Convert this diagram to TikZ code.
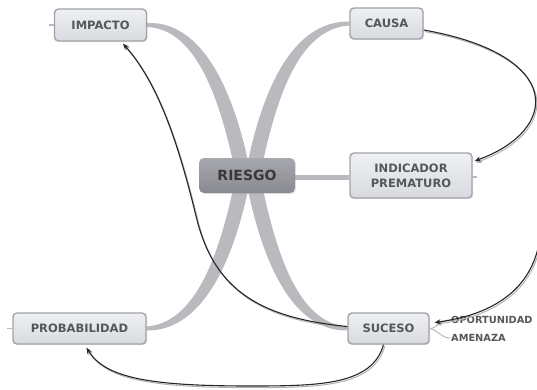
\documentclass[tikz,border=0pt]{standalone}
\usepackage{fontspec}
\setmainfont{DejaVu Sans}
\usetikzlibrary{arrows.meta,calc,shadows}

\definecolor{branchgray}{HTML}{B8BABE}
\definecolor{boxtop}{HTML}{EFF0F3}
\definecolor{boxbot}{HTML}{D9DADF}
\definecolor{boxline}{HTML}{A2A3A8}
\definecolor{labelgray}{HTML}{55575B}
\definecolor{coretop}{HTML}{A6A8AD}
\definecolor{corebot}{HTML}{888A8F}
\definecolor{linkdark}{HTML}{262626}

\pgfdeclarelayer{canvas}
\pgfdeclarelayer{branches}
\pgfsetlayers{canvas,branches,main}

\tikzset{
  topic/.style={rounded corners=4pt, draw=boxline, line width=1.4pt,
    top color=boxtop, bottom color=boxbot, text=labelgray,
    font=\bfseries\fontsize{11.5}{15}\selectfont, align=center, inner sep=0pt,
    drop shadow={shadow xshift=1.2pt, shadow yshift=-1.2pt, opacity=0.18}},
  core/.style={rounded corners=5pt, top color=coretop, bottom color=corebot,
    text=black!78, font=\bfseries\fontsize{14}{16}\selectfont, inner sep=0pt,
    minimum width=96pt, minimum height=35pt,
    drop shadow={shadow xshift=1.2pt, shadow yshift=-1.2pt, opacity=0.18}},
  branch/.style={fill=branchgray},
  stub/.style={draw=branchgray, line width=1.5pt},
  leafline/.style={draw=branchgray, line width=1pt},
  link/.style={draw=linkdark, line width=1.1pt, -{Stealth[length=6pt,width=5pt]},
    preaction={draw=black!30, line width=1pt,
      transform canvas={xshift=1.2pt, yshift=-1.6pt}}},
  leaf/.style={font=\bfseries\fontsize{9.8}{12}\selectfont, text=labelgray,
    anchor=west, inner sep=1pt}
}

\begin{document}
\begin{tikzpicture}[x=1pt, y=-1pt]
  % page frame
  \path[use as bounding box] (0,0) rectangle (537,390);
  \begin{pgfonlayer}{canvas}
    \fill[white] (0,0) rectangle (537,390);
  \end{pgfonlayer}

  % topics
  \node[core] (riesgo) at (247,175.5) {RIESGO};
  \node[topic, minimum width=92pt, minimum height=32pt] (impacto) at (100.5,25) {IMPACTO};
  \node[topic, minimum width=73pt, minimum height=31pt] (causa) at (386.5,23.5) {CAUSA};
  \node[topic, minimum width=122pt, minimum height=45pt] (indicador) at (411,175.5) {INDICADOR\\PREMATURO};
  \node[topic, minimum width=133pt, minimum height=31pt] (prob) at (79.5,328.5) {PROBABILIDAD};
  \node[topic, minimum width=81pt, minimum height=31pt] (suceso) at (388.5,328.5) {SUCESO};

  % sub-topics of SUCESO
  \node[leaf] (opor) at (450,320) {OPORTUNIDAD};
  \node[leaf] (amen) at (450,338) {AMENAZA};

  % tapered branches from the central topic
  \begin{pgfonlayer}{branches}
    \fill[branch] ($(riesgo.center)+(4,0)$) .. controls (235,92) and (203,21) .. ($(impacto.east)+(0,-2)$)
      -- ($(impacto.east)+(0,2)$) .. controls (196,29) and (220,98) .. ($(riesgo.center)+(-11,0)$) -- cycle;
    \fill[branch] ($(riesgo.center)+(-2,0)$) .. controls (261,92) and (291,21) .. ($(causa.west)+(0,-2)$)
      -- ($(causa.west)+(0,2)$) .. controls (298,29) and (276,98) .. ($(riesgo.center)+(13,0)$) -- cycle;
    \fill[branch] ($(riesgo.center)+(4,0)$) .. controls (235,260) and (203,331) .. ($(prob.east)+(0,2)$)
      -- ($(prob.east)+(0,-2)$) .. controls (196,323) and (220,254) .. ($(riesgo.center)+(-11,0)$) -- cycle;
    \fill[branch] ($(riesgo.center)+(-2,0)$) .. controls (261,260) and (291,331) .. ($(suceso.west)+(0,2)$)
      -- ($(suceso.west)+(0,-2)$) .. controls (298,323) and (276,254) .. ($(riesgo.center)+(13,0)$) -- cycle;
    \draw[branchgray, line width=5pt] ([yshift=-1.5pt]riesgo.east) -- ([yshift=-1.5pt]indicador.west);
  \end{pgfonlayer}

  % collapsed-branch stubs
  \draw[stub] (impacto.west) -- ++(-5,0);
  \draw[stub] (prob.west) -- ++(-5,0);
  \draw[stub] ([yshift=-1.5pt]indicador.east) -- ++(4,0);
  \draw[leafline] (suceso.east) .. controls (438,328) and (440,320) .. (opor.west);
  \draw[leafline] (suceso.east) .. controls (438,330) and (441,338) .. (amen.west);

  % relationship links
  \coordinate (rim) at (541,212);
  \draw[link] ([yshift=-6.5pt]causa.east) .. controls (565,55) and (560,130) .. ([xshift=2pt,yshift=14.5pt]indicador.east);
  \draw[link] ([yshift=2pt]suceso.west) .. controls (260,318) and (215,290) .. (197,220)
      .. controls (180,150) and (160,85) .. ([xshift=22.5pt,yshift=-2pt]impacto.south);
  \draw[link] ([xshift=-5pt]suceso.south) .. controls (372,385) and (320,386) .. (250,386)
      .. controls (150,386) and (105,378) .. ([xshift=7pt,yshift=-3pt]prob.south);
  \draw[link] (rim) .. controls (545,290) and (490,315) .. ([xshift=5pt,yshift=6pt]suceso.east);
\end{tikzpicture}
\end{document}
